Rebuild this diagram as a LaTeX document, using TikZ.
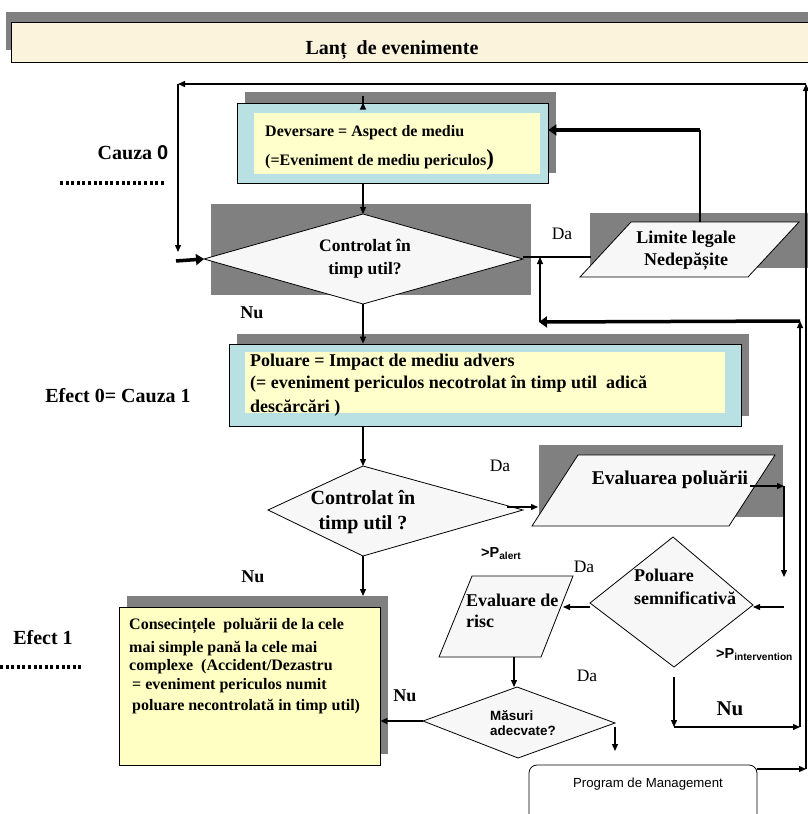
\documentclass[tikz,border=0pt]{standalone}
\usepackage{fontspec}
\setmainfont{Liberation Serif}
\setsansfont{Liberation Sans}
\usetikzlibrary{arrows.meta}
\definecolor{shad}{RGB}{128,128,128}
\definecolor{cyanbox}{RGB}{185,224,227}
\definecolor{paleyel}{RGB}{255,255,204}
\definecolor{cream}{RGB}{251,243,220}
\definecolor{consyel}{RGB}{255,255,196}
\definecolor{shapefill}{RGB}{247,247,247}
\newcommand{\pxs}[2]{\fontsize{#1}{#2}\selectfont}
\begin{document}
\begin{tikzpicture}[x=1pt,y=-1pt,
  conn/.style={line width=1.3pt,-{Triangle[length=7pt,width=6pt]}},
  thickconn/.style={line width=3.5pt,-{Triangle[length=8pt,width=11pt]}},
  plainline/.style={line width=1.3pt},
  fig/.style={draw,line width=0.8pt,fill=shapefill},
  shadow/.style={fill=shad},
  lbl/.style={inner sep=0pt,anchor=base west,font=\bfseries\pxs{16}{18}},
  ctext/.style={inner sep=0pt,align=center,font=\bfseries\pxs{17.5}{23}},
  da/.style={inner sep=0pt,font=\pxs{17.5}{19}},
  nu/.style={inner sep=0pt,font=\bfseries\pxs{18}{20}},
  dots/.style={line width=3.5pt,dash pattern=on 3pt off 2.6pt}]
\useasboundingbox (0,0) rectangle (808,814);
\fill[white] (0,0) rectangle (808,814);

% ---------- banner
\fill[shadow] (6,12) rectangle (808,50);
\draw[fill=cream,line width=0.8pt] (11,22) rectangle (812,62);
\node[inner sep=0pt,font=\bfseries\pxs{20}{22}] (title) at (392,50) {Lanț~ de evenimente};

% ---------- left labels
\node[inner sep=0pt,font=\bfseries\pxs{20}{22}] (cauza0) at (133,153) {Cauza {\sffamily 0}};
\draw[dots] (60,183) -- (166,183);
\node[inner sep=0pt,font=\bfseries\pxs{20}{22}] (efect0) at (118,396) {Efect 0= Cauza 1};
\node[inner sep=0pt,font=\bfseries\pxs{20}{22}] (efect1) at (43,638) {Efect 1};
\draw[dots] (0,667) -- (82,667);

% ---------- Deversare box
\fill[shadow] (245,92) rectangle (556,173);
\node[draw,fill=cyanbox,line width=0.8pt,minimum width=311pt,minimum height=80pt,inner sep=0pt] (dev) at (392.5,143) {};
\fill[paleyel] (254,113) rectangle (540,174);
\node[lbl] (devt1) at (265,136.5) {Deversare = Aspect de mediu};
\node[lbl] (devt2) at (265,165.5) {(=Eveniment de mediu periculos{\pxs{23}{23})}};

% ---------- Diamond 1
\fill[shadow] (211,204) rectangle (531,295);
\coordinate (d1t) at (363,214);
\coordinate (d1r) at (523,259);
\coordinate (d1b) at (363,304);
\coordinate (d1l) at (204,259);
\draw[fig] (d1t) -- (d1r) -- (d1b) -- (d1l) -- cycle;
\node[ctext] (d1txt) at (365,258.5) {Controlat în\\timp util?};

% ---------- Limite legale
\fill[shadow] (590,213) rectangle (812,268);
\coordinate (limtl) at (631,222);
\coordinate (limtr) at (799,222);
\coordinate (limbr) at (748,277);
\coordinate (limbl) at (580,277);
\draw[fig] (limtl) -- (limtr) -- (limbr) -- (limbl) -- cycle;
\node[ctext,font=\bfseries\pxs{18}{22}] (limtxt) at (686,251) {Limite legale\\Nedepășite};
\coordinate (limtop) at (700,222);
\coordinate (limleft) at (591,257);
\coordinate (devR) at (dev.east |- 0,130);
\coordinate (corner1) at (700,130);

% ---------- Poluare box
\fill[shadow] (237,334) rectangle (749,416);
\node[draw,fill=cyanbox,line width=0.8pt,minimum width=512pt,minimum height=82pt,inner sep=0pt] (pol) at (485,385) {};
\fill[paleyel] (245,352) rectangle (725,413);
\node[lbl,font=\bfseries\pxs{18}{20}] (polt1) at (250,366) {Poluare = Impact de mediu advers};
\node[lbl,font=\bfseries\pxs{18}{20}] (polt2) at (250,388.5) {(= eveniment periculos necotrolat în timp util~ adică};
\node[lbl,font=\bfseries\pxs{18}{20}] (polt3) at (250,412.5) {descărcări )};

% ---------- Diamond 2
\coordinate (d2t) at (363,466);
\coordinate (d2r) at (523,510);
\coordinate (d2b) at (363,556);
\coordinate (d2l) at (268,510);
\draw[fig] (d2t) -- (d2r) -- (d2b) -- (d2l) -- cycle;
\node[ctext,font=\bfseries\pxs{20}{25}] (d2txt) at (363,512) {Controlat în\\timp util ?};

% ---------- Evaluarea poluarii
\fill[shadow] (539,445) rectangle (783,517);
\coordinate (evtl) at (578,455);
\coordinate (evtr) at (775,455);
\coordinate (evbr) at (729,526);
\coordinate (evbl) at (532,526);
\draw[fig] (evtl) -- (evtr) -- (evbr) -- (evbl) -- cycle;
\node[inner sep=0pt,font=\bfseries\pxs{19.5}{21}] (evtxt) at (670,480) {Evaluarea poluării};
\coordinate (evout) at (750,486);
\coordinate (evcorner) at (784,486);
\coordinate (evdown) at (784,577);

% ---------- Diamond 3
\coordinate (d3t) at (673,537);
\coordinate (d3r) at (753,605);
\coordinate (d3b) at (674,667);
\coordinate (d3l) at (590,603);
\draw[fig] (d3t) -- (d3r) -- (d3b) -- (d3l) -- cycle;
\node[lbl,font=\bfseries\pxs{18}{20}] (d3t1) at (634,581) {Poluare};
\node[lbl,font=\bfseries\pxs{18}{20}] (d3t2) at (634,604) {semnificativă};
\coordinate (d3in) at (784,607);

% ---------- Evaluare de risc
\coordinate (ertl) at (472,576);
\coordinate (ertr) at (573,576);
\coordinate (erbr) at (541,657);
\coordinate (erbl) at (439,657);
\draw[fig] (ertl) -- (ertr) -- (erbr) -- (erbl) -- cycle;
\node[lbl,font=\bfseries\pxs{18}{20}] (ert1) at (466,606) {Evaluare de};
\node[lbl,font=\bfseries\pxs{18}{20}] (ert2) at (466,627) {risc};
\coordinate (erR) at (563,607);
\coordinate (erB) at (514,657);

% ---------- Masuri adecvate
\coordinate (d4t) at (517,687);
\coordinate (d4r) at (615,723);
\coordinate (d4b) at (518,758);
\coordinate (d4l) at (423,721);
\draw[fig] (d4t) -- (d4r) -- (d4b) -- (d4l) -- cycle;
\node[lbl,font=\sffamily\bfseries\pxs{13.4}{15}] (d4t1) at (490,720.5) {Măsuri};
\node[lbl,font=\sffamily\bfseries\pxs{13.4}{15}] (d4t2) at (490,735) {adecvate?};
\coordinate (d4a) at (615,727);
\coordinate (d4b2) at (615,751);

% ---------- Consecintele box
\fill[shadow] (127,596) rectangle (388,754);
\node[draw,fill=consyel,line width=0.8pt,minimum width=261pt,minimum height=158pt,inner sep=0pt] (cons) at (249.5,686) {};
\node[lbl] (c1) at (129,629.5) {Consecințele~ poluării de la cele};
\node[lbl] (c2) at (129,652) {mai simple pană la cele mai};
\node[lbl] (c3) at (129,670.5) {complexe~ (Accident/Dezastru};
\node[lbl] (c4) at (132,689) {= eveniment periculos numit};
\node[lbl] (c5) at (132,710.5) {poluare necontrolată in timp util)};

% ---------- Program de Management
\draw[line width=0.8pt,fill=white,rounded corners=8pt] (529,832) -- (529,765) -- (757,765) -- (757,832);
\node[inner sep=0pt,font=\sffamily\pxs{13.2}{15}] (prog) at (648,784) {Program de Management};
\coordinate (progR) at (757,769);

% ---------- labels
\node[da] (da1) at (562,234) {Da};
\node[nu] (nu1) at (252,313) {Nu};
\node[da] (da2) at (500,466) {Da};
\node[nu] (nu2) at (253,577) {Nu};
\node[da] (da3) at (584,567) {Da};
\node[da] (da4) at (587,676) {Da};
\node[nu] (nu3) at (405,696) {Nu};
\node[inner sep=0pt,font=\bfseries\pxs{21}{22}] (nu4) at (730,709) {Nu};
\node[inner sep=0pt,anchor=base west,font=\sffamily\bfseries\pxs{14.5}{15}] (palert) at (481,557) {>P\textsubscript{alert}};
\node[inner sep=0pt,anchor=base west,font=\sffamily\bfseries\pxs{14.5}{15}] (pint) at (716,658) {>P\textsubscript{intervention}};

% ---------- right-hand feedback lines
\coordinate (rb) at (806,769);
\coordinate (rt) at (806,84);
\coordinate (tl) at (178,84);
\coordinate (tlb) at (178,252);
\coordinate (tin) at (176,261);
\coordinate (ib) at (800,727);
\coordinate (it) at (800,321);
\coordinate (fbL) at (539,322);
\coordinate (fbup) at (540,257);
\coordinate (nuc) at (674,727);
\coordinate (d3bb) at (674,677);

% ---------- connectors
\draw[conn] (progR) -- (rb);
\draw[conn] (rb) -- (rt);
\draw[conn] (rt) -- (tl);
\draw[conn] (tl) -- (tlb);
\draw[thickconn] (tin) -- (d1l);
\draw[conn] (dev.north -| d1t |- rt) -- (dev.north -| d1t);
\draw[conn] (dev.south -| d1t) -- (d1t);
\draw[plainline] (limtop) -- (corner1);
\draw[thickconn] (corner1) -- (devR);
\draw[plainline] (d1r |- limleft) -- (limleft);
\draw[conn] (ib) -- (it);
\draw[thickconn] (it) -- (fbL);
\draw[conn] (fbL -| fbup) -- (fbup);
\draw[conn] (d1b) -- (pol.north -| d1b);
\draw[conn] (pol.south -| d2t) -- (d2t);
\draw[conn] ([xshift=-16pt]d2r |- 0,507) -- (evbl |- 0,507) -- ++(6,0);
\draw[conn] (evout) -- (evcorner);
\draw[conn] (evcorner) -- (evdown);
\draw[conn] (d3in) -- (d3r |- d3in);
\draw[conn] (d3l |- erR) -- (erR);
\draw[conn] (erB) -- (erB |- d4t);
\draw[conn] (d4l) -- (cons.east |- d4l);
\draw[conn] (d4a) -- (d4b2);
\draw[conn] (d2b) -- (d2b |- 0,596);
\draw[conn] (d3bb) -- (nuc);
\draw[conn] (nuc) -- (ib);
\end{tikzpicture}
\end{document}
